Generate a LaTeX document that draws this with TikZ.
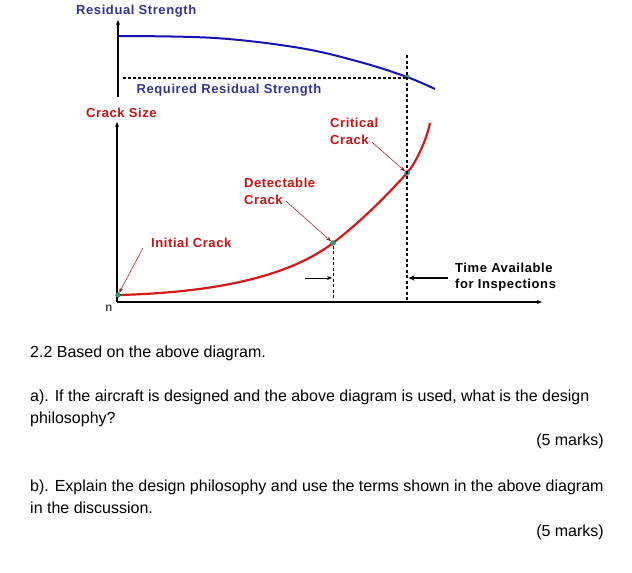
\documentclass[tikz,border=0pt]{standalone}
\usepackage{fontspec}
\setmainfont{Liberation Sans}
\newfontfamily\lblfont[LetterSpace=4.5]{Liberation Sans}
\usetikzlibrary{arrows.meta}
\definecolor{rsblue}{HTML}{1414B4}
\definecolor{rstext}{HTML}{333399}
\definecolor{crred}{HTML}{D81818}
\definecolor{crtext}{HTML}{CC1111}
\definecolor{dotgreen}{HTML}{2E9E78}
\tikzset{
  lbl/.style={inner sep=0pt, font=\lblfont\fontsize{13}{16}\selectfont\bfseries},
  qtext/.style={inner sep=0pt, anchor=base west, align=left, font=\fontsize{16}{22}\selectfont},
  dot/.style={circle, fill=dotgreen, draw=dotgreen!60!black, line width=0.2pt, inner sep=0pt, minimum size=5pt},
  lead/.style={-{Stealth[length=5pt, width=3.5pt]}, line width=0.5pt, draw=crtext!80!black},
  axis/.style={-{Stealth[length=5pt, width=4pt]}, line width=1.3pt},
  dashv/.style={line width=1.8pt, dash pattern=on 3pt off 2.5pt}
}
\begin{document}
\begin{tikzpicture}[x=1pt, y=-1pt]
  \useasboundingbox (0,0) rectangle (632,573);
  \coordinate (origin) at (117,302);
  \coordinate (topaxis) at (118,97);
  \coordinate (rq) at (123,78);
  \coordinate (ctop) at (407,55);
  \coordinate (tl) at (305,278);
  \coordinate (tr) at (448,278);

  \draw[axis] (topaxis) -- (118,20);
  \draw[axis] (origin) -- (117,122);
  \draw[axis] (origin) -- (542,302);

  \draw[rsblue, line width=2pt] plot[smooth, tension=0.6] coordinates {(118,36) (215,38) (300,48) (360,62) (407,77) (435,89)};
  \draw[crred, line width=2.2pt] (118,295) .. controls (240,292) and (300,268) .. (333,243)
    .. controls (363,220) and (390,192) .. (407,173)
    .. controls (415,164) and (426,142) .. (430,123);

  \node[dot] (rs) at (407,77) {};
  \node[dot] (init) at (118,295) {};
  \node[dot] (det) at (333,243) {};
  \node[dot] (crit) at (407,173) {};

  \draw[line width=1.3pt, dash pattern=on 3pt off 2pt] (rq) -- (rq -| rs);
  \draw[dashv] (ctop) -- (ctop |- origin);
  \draw[line width=1pt, dash pattern=on 3pt off 2.5pt] (det) -- (det |- origin);
  \draw[-{Stealth[length=5pt, width=4pt]}, line width=1pt, shorten >=1pt] (tl) -- (tl -| det);
  \draw[-{Stealth[length=6pt, width=5pt]}, line width=1.8pt, shorten >=1.5pt] (tr) -- (tr -| crit);

  \node[lbl, rstext, anchor=west] (rslabel) at (76,11) {Residual Strength};
  \node[lbl, rstext] (rqlabel) at (229,90) {Required Residual Strength};
  \node[lbl, crtext, anchor=west] (cslabel) at (86,113) {Crack Size};
  \node[lbl, crtext, anchor=west] (critA) at (330,123) {Critical};
  \node[lbl, crtext, anchor=west] (critB) at (330,140) {Crack};
  \node[lbl, crtext, anchor=west] (detA) at (244,183) {Detectable};
  \node[lbl, crtext, anchor=west] (detB) at (244,200) {Crack};
  \node[lbl, crtext, anchor=west] (initlabel) at (151,243) {Initial Crack};
  \node[lbl, anchor=west, align=left] (time) at (455,277) {Time Available\\for Inspections};
  \node[inner sep=0pt, font=\fontsize{12}{12}\selectfont] (zero) at (109,308) {n};

  \draw[lead] (critB.east) ++(3,2) -- (crit);
  \draw[lead] (detB.east) ++(3,1) -- (det);
  \draw[lead] (initlabel.west) ++(-8,5) -- (init);

  \node[qtext] (q0) at (30,357) {2.2 Based on the above diagram.};
  \node[qtext] (qa) at (30,423) {a). If the aircraft is designed and the above diagram is used, what is the design\\philosophy?};
  \node[qtext, anchor=base east] (qam) at (604,445) {(5 marks)};
  \node[qtext] (qb) at (30,513) {b). Explain the design philosophy and use the terms shown in the above diagram\\in the discussion.};
  \node[qtext, anchor=base east] (qbm) at (604,536) {(5 marks)};
\end{tikzpicture}
\end{document}
